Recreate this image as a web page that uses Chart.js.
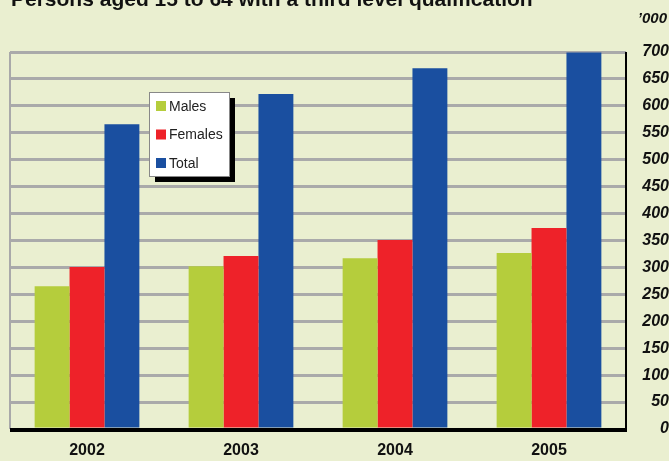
<!DOCTYPE html>
<html>
<head>
<meta charset="utf-8">
<script src="https://cdn.jsdelivr.net/npm/chart.js@4.4.0/dist/chart.umd.min.js"></script>
<style>
html,body{margin:0;padding:0;background:#eaefd0;}
#wrap{width:669px;height:461px;position:relative;}
</style>
</head>
<body>
<div id="wrap"><canvas id="c" width="669" height="461"></canvas></div>
<script>
const categories = ['2002', '2003', '2004', '2005'];
const males = [265, 302, 317, 327];
const females = [301, 321, 351, 373];
const total = [566, 622, 670, 699];
const seriesNames = ['Males', 'Females', 'Total'];
const yTicks = [0,50,100,150,200,250,300,350,400,450,500,550,600,650,700];
const titleText = 'Persons aged 15 to 64 with a third level qualification';
const unitText = '\u2019000';

const colors = ['#b5cd3c', '#ee2229', '#1a4fa0'];

const decor = {
  id: 'decor',
  beforeDraw(chart) {
    const ctx = chart.ctx;
    ctx.save();
    ctx.fillStyle = '#eaefd0';
    ctx.fillRect(0, 0, chart.width, chart.height);
    ctx.restore();
  },
  afterDraw(chart) {
    const ctx = chart.ctx;
    const a = chart.chartArea;
    ctx.save();
    // left gray border
    ctx.strokeStyle = '#a9a9a9';
    ctx.lineWidth = 2;
    ctx.beginPath();
    ctx.moveTo(a.left, a.bottom);
    ctx.lineTo(a.left, a.top);
    ctx.stroke();
    // right black border
    ctx.strokeStyle = '#000';
    ctx.lineWidth = 2;
    ctx.beginPath();
    ctx.moveTo(a.right, a.top);
    ctx.lineTo(a.right, a.bottom);
    ctx.stroke();
    // bottom black border
    ctx.lineWidth = 4;
    ctx.beginPath();
    ctx.moveTo(a.left, a.bottom + 1);
    ctx.lineTo(a.right + 1, a.bottom + 1);
    ctx.stroke();

    // title (cut off at top)
    ctx.fillStyle = '#111';
    ctx.font = 'bold 21px "Liberation Sans", Arial, sans-serif';
    ctx.textAlign = 'left';
    ctx.textBaseline = 'alphabetic';
    ctx.fillText(titleText, 11, 6);

    // unit
    ctx.font = 'italic bold 15px "Liberation Sans", Arial, sans-serif';
    ctx.textAlign = 'right';
    ctx.fillText(unitText, 667, 23);

    // legend
    const lx = 149, ly = 92, lw = 80, lh = 84;
    ctx.fillStyle = '#000';
    ctx.fillRect(lx + 6, ly + 6, lw, lh);
    ctx.fillStyle = '#fff';
    ctx.fillRect(lx, ly, lw, lh);
    ctx.strokeStyle = '#888';
    ctx.lineWidth = 1;
    ctx.strokeRect(lx + 0.5, ly + 0.5, lw, lh);
    ctx.font = '14px "Liberation Sans", Arial, sans-serif';
    ctx.textAlign = 'left';
    ctx.textBaseline = 'middle';
    chart.data.datasets.forEach((ds, i) => {
      const y = ly + 14 + i * 28.5;
      ctx.fillStyle = ds.backgroundColor;
      ctx.fillRect(lx + 7, y - 5, 10, 10);
      ctx.fillStyle = '#222';
      ctx.fillText(ds.label, lx + 20, y + 1);
    });
    ctx.restore();
  }
};

new Chart(document.getElementById('c'), {
  type: 'bar',
  data: {
    labels: categories,
    datasets: [
      { label: seriesNames[0], data: males, backgroundColor: colors[0] },
      { label: seriesNames[1], data: females, backgroundColor: colors[1] },
      { label: seriesNames[2], data: total, backgroundColor: colors[2] }
    ]
  },
  options: {
    responsive: false,
    animation: false,
    layout: { padding: { left: 10, top: 52, right: 0, bottom: 0 } },
    plugins: { legend: { display: false }, title: { display: false }, tooltip: { enabled: false } },
    datasets: { bar: { barPercentage: 1.0, categoryPercentage: 0.68, borderWidth: 0 } },
    scales: {
      x: {
        grid: { display: false, drawTicks: false },
        border: { display: false },
        ticks: { color: '#111', font: { family: '"Liberation Sans", Arial, sans-serif', size: 16, weight: 'bold' }, padding: 12 },
        afterFit(s) { s.height = 32; }
      },
      y: {
        position: 'right',
        min: 0, max: 700,
        afterBuildTicks(s) { s.ticks = yTicks.map(v => ({ value: v })); },
        grid: {
          drawTicks: false,
          lineWidth: 3,
          color: (c) => (c.tick && c.tick.value === 0) ? 'rgba(0,0,0,0)' : '#aaaaaa'
        },
        border: { display: false },
        ticks: {
          color: '#111',
          crossAlign: 'far',
          padding: 0,
          font: { family: '"Liberation Sans", Arial, sans-serif', size: 16, weight: 'bold', style: 'italic' }
        },
        afterFit(s) { s.width = 43; }
      }
    }
  },
  plugins: [decor]
});
</script>
</body>
</html>
